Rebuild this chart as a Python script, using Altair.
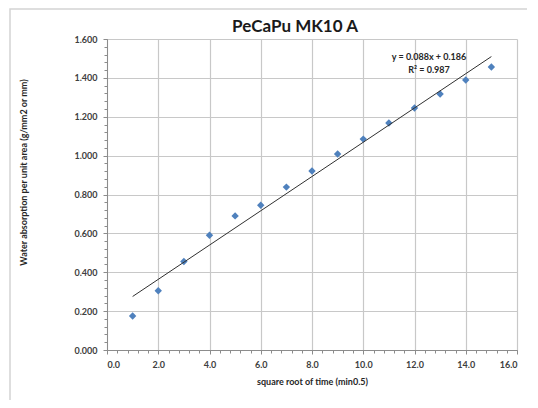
import altair as alt
import pandas as pd

# data
sqrt_time = [1, 2, 3, 4, 5, 6, 7, 8, 9, 10, 11, 12, 13, 14, 15]
absorption = [0.175, 0.305, 0.455, 0.590, 0.690, 0.745, 0.838, 0.921,
              1.008, 1.085, 1.168, 1.245, 1.317, 1.389, 1.456]
x_ticks = [0, 2, 4, 6, 8, 10, 12, 14, 16]
y_ticks = [0.0, 0.2, 0.4, 0.6, 0.8, 1.0, 1.2, 1.4, 1.6]
x_minor = [round(i * 0.4, 2) for i in range(41)]
y_minor = [round(i * 0.04, 3) for i in range(41)]
eq_lines = ["y = 0.088x + 0.186", "R² = 0.987"]
chart_title = "PeCaPu MK10 A"

df = pd.DataFrame({"x": sqrt_time, "y": absorption})

FONT = "Lato"
LABEL_COLOR = "#404040"

xscale = alt.Scale(domain=[0, 16], nice=False, zero=True)
yscale = alt.Scale(domain=[0, 1.6], nice=False, zero=True)

x_axis = alt.Axis(values=x_ticks, format=".1f", grid=True, gridColor="#c8c8c8",
                  gridWidth=1.2, domainColor="#8c8c8c", tickColor="#8c8c8c",
                  tickSize=4, labelFont=FONT, labelFontSize=9, labelColor=LABEL_COLOR,
                  labelPadding=6, title="square root of time (min0.5)",
                  titleFont=FONT, titleFontSize=9, titleFontWeight="bold",
                  titleColor="#262626", titlePadding=8, labelFontWeight="bold",
                  orient="bottom")
y_axis = alt.Axis(values=y_ticks, format=".3f", grid=True, gridColor="#c8c8c8",
                  gridWidth=1.2, domainColor="#8c8c8c", tickColor="#8c8c8c",
                  tickSize=4, labelFont=FONT, labelFontSize=9, labelColor=LABEL_COLOR,
                  labelPadding=6, labelFontWeight="bold", orient="left",
                  title="Water absorption per unit area (g/mm2 or mm)",
                  titleFont=FONT, titleFontSize=9, titleFontWeight="bold",
                  titleColor="#262626", titleX=-84, titleY=133, titleAngle=270,
                  titleAlign="center", titleBaseline="middle")

points = alt.Chart(df).mark_point(shape="diamond", filled=True, color="#4F81BD",
                                  size=55, opacity=1).encode(
    x=alt.X("x:Q", scale=xscale, axis=x_axis),
    y=alt.Y("y:Q", scale=yscale, axis=y_axis),
)

trend = alt.Chart(df).transform_regression("x", "y", extent=[1, 15]).mark_line(
    color="#303030", strokeWidth=1
).encode(
    x=alt.X("x:Q", scale=xscale, axis=None),
    y=alt.Y("y:Q", scale=yscale, axis=None),
)

eq_layers = []
for i, line in enumerate(eq_lines):
    eq_layers.append(
        alt.Chart(alt.Data(values=[{"t": line}])).mark_text(
            font=FONT, fontSize=9, fontWeight="bold", color="#262626",
            align="center", baseline="middle"
        ).encode(x=alt.value(322), y=alt.value(18 + 13 * i), text="t:N")
    )

title_layer = alt.Chart(alt.Data(values=[{"t": chart_title}])).mark_text(
    font=FONT, fontSize=17, fontWeight="bold", color="#1a1a1a",
    align="center", baseline="middle"
).encode(x=alt.value(188), y=alt.value(-12), text="t:N")

minor = alt.Chart(df).mark_point(opacity=0).encode(
    x=alt.X("x:Q", scale=xscale,
            axis=alt.Axis(values=x_minor, orient="bottom", labels=False, grid=False,
                          domain=False, tickSize=3, tickColor="#8c8c8c", title=None)),
    y=alt.Y("y:Q", scale=yscale,
            axis=alt.Axis(values=y_minor, orient="left", labels=False, grid=False,
                          domain=False, tickSize=3, tickColor="#8c8c8c", title=None)),
)

frame = alt.Chart(alt.Data(values=[{}])).mark_rect(
    fill=None, stroke="#d4d4d4", strokeWidth=1.5
).encode(
    x=alt.value(-97), x2=alt.value(425), y=alt.value(-30), y2=alt.value(400)
)

chart = alt.layer(points, trend, *eq_layers, title_layer, minor, frame).resolve_axis(
    x="independent", y="independent"
).properties(
    width=410, height=311,
    autosize=alt.AutoSizeParams(type="none"),
    padding={"left": 99, "top": 31, "right": 10, "bottom": 50},
).configure_view(stroke=None)

chart.save("out.html", embed_options={"renderer": "svg", "actions": False})
